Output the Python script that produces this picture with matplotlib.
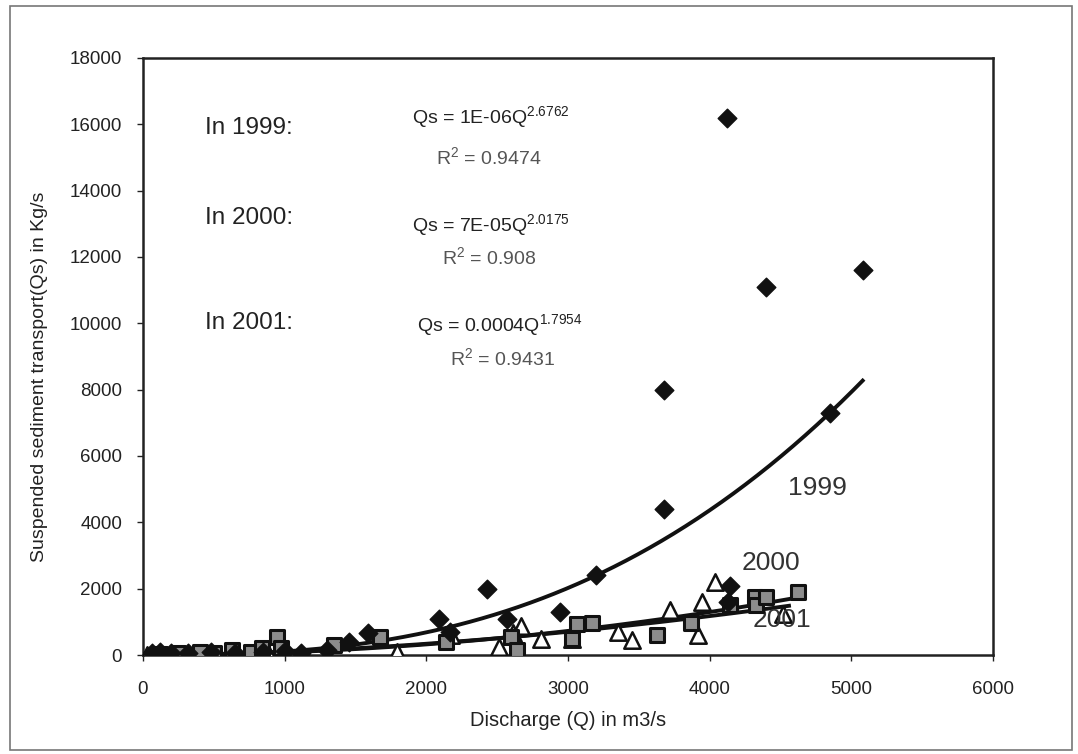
import numpy as np
import matplotlib
matplotlib.use("Agg")
import matplotlib.pyplot as plt
from matplotlib.patches import Rectangle

plt.rcParams['font.family'] = ['Liberation Sans', 'DejaVu Sans']
plt.rcParams['mathtext.fontset'] = 'custom'
plt.rcParams['mathtext.rm'] = 'Liberation Sans'
plt.rcParams['mathtext.it'] = 'Liberation Sans'
plt.rcParams['mathtext.bf'] = 'Liberation Sans:bold'

# 1999 observations (black diamonds)
q1999 = [60, 120, 200, 320, 480, 650, 850, 1000, 1115, 1300, 1455, 1585, 2090, 2170, 2430, 2570,
         2940, 3200, 3680, 3680, 4130, 4140, 4120, 4400, 4850, 5080]
qs1999 = [60, 80, 70, 60, 80, 70, 100, 120, 50, 150, 400, 650, 1100, 700, 1980, 1080,
          1300, 2420, 4400, 8000, 1600, 2080, 16200, 11100, 7300, 11600]

# 2000 observations (grey squares)
q2000 = [120, 250, 400, 500, 630, 760, 840, 947, 975, 1350, 1670, 2140, 2600, 2640, 3025,
         3060, 3170, 3630, 3870, 4140, 4320, 4330, 4400, 4620]
qs2000 = [40, 60, 80, 60, 160, 90, 220, 550, 220, 300, 550, 400, 550, 160, 480,
          930, 960, 600, 960, 1500, 1750, 1500, 1750, 1900]

# 2001 observations (open triangles)
q2001 = [30, 125, 240, 590, 890, 1790, 2175, 2515, 2610, 2670, 2810, 3030, 3350, 3455,
         3720, 3915, 3945, 4035, 4515]
qs2001 = [0, 0, 0, 0, 0, 100, 600, 230, 650, 870, 480, 480, 700, 450,
          1350, 600, 1600, 2200, 1250]

# Power trendlines  Qs = a * Q^b
years = ['1999', '2000', '2001']
fit_a = {'1999': 1e-6, '2000': 7e-5, '2001': 0.0004}
fit_a_label = {'1999': '1E-06', '2000': '7E-05', '2001': '0.0004'}
fit_b = {'1999': 2.6762, '2000': 2.0175, '2001': 1.7954}
fit_r2 = {'1999': '0.9474', '2000': '0.908', '2001': '0.9431'}
fit_range = {'1999': (30, 5080), '2000': (120, 4620), '2001': (30, 4560)}

xticks = [0, 1000, 2000, 3000, 4000, 5000, 6000]
yticks = [0, 2000, 4000, 6000, 8000, 10000, 12000, 14000, 16000, 18000]

fig = plt.figure(figsize=(10.78, 7.54), dpi=100)
fig.patch.set_facecolor('white')
fig.patches.append(Rectangle((10/1078, 4/754), 1062/1078, 744/754, transform=fig.transFigure,
                             fill=False, edgecolor='#777777', linewidth=1.2))

ax = fig.add_axes([143/1078, 1 - 655/754, 850/1078, 597/754])

for yr in years:
    lo, hi = fit_range[yr]
    qq = np.linspace(lo, hi, 300)
    ax.plot(qq, fit_a[yr] * qq ** fit_b[yr], color='#111111', linewidth=2.8, zorder=2)

ax.scatter(q2001, qs2001, marker='^', s=140, facecolor='white', edgecolor='#111111',
           linewidth=1.8, zorder=3)
ax.scatter(q2000, qs2000, marker='s', s=115, facecolor='#8c8c8c', edgecolor='#111111',
           linewidth=2.2, zorder=4)
ax.scatter(q1999, qs1999, marker='D', s=90, facecolor='#111111', edgecolor='#111111',
           linewidth=1, zorder=5)

ax.set_xlim(0, 6000)
ax.set_ylim(0, 18000)
ax.set_xticks(xticks)
ax.set_yticks(yticks)
ax.tick_params(axis='both', direction='out', length=4, width=1, labelsize=13.5,
               labelcolor='#222222', color='#222222')
ax.tick_params(axis='x', pad=15)
ax.tick_params(axis='y', pad=11)
for sp in ax.spines.values():
    sp.set_linewidth(1.8)
    sp.set_color('#222222')

ax.set_xlabel('Discharge (Q) in m3/s', fontsize=14.5, color='#222222')
ax.set_ylabel('Suspended sediment transport(Qs) in Kg/s', fontsize=14, color='#222222')
ax.xaxis.set_label_coords(0.5, -(720 - 655) / 597, transform=ax.transAxes)
ax.yaxis.set_label_coords((40 - 143) / 850, (655 - 377) / 597, transform=ax.transAxes)
ax.xaxis.label.set_va('center')
ax.yaxis.label.set_va('center')

# Equation annotations
label_y = {'1999': 15890, '2000': 13175, '2001': 10010}
eq_xy = {'1999': (1900, 16220), '2000': (1900, 12965), '2001': (1934, 9950)}
r2_xy = {'1999': (2070, 15015), '2000': (2110, 12000), '2001': (2170, 8955)}
for yr in years:
    ax.text(437, label_y[yr], f'In {yr}:', fontsize=17.5, color='#222222',
            va='center', ha='left')
    ex, ey = eq_xy[yr]
    ax.text(ex, ey, r'Qs = %sQ$^{%s}$' % (fit_a_label[yr], f'{fit_b[yr]}'), fontsize=14,
            color='#222222', va='center', ha='left')
    rx, ry = r2_xy[yr]
    ax.text(rx, ry, r'R$^{2}$ = ' + fit_r2[yr], fontsize=14, color='#555555',
            va='center', ha='left')

ax.text(4553, 5035, '1999', fontsize=19, color='#333333', va='center', ha='left')
ax.text(4228, 2774, '2000', fontsize=19, color='#333333', va='center', ha='left')
ax.text(4306, 1055, '2001', fontsize=19, color='#333333', va='center', ha='left')

fig.savefig('out.png', dpi=100, facecolor='white')
